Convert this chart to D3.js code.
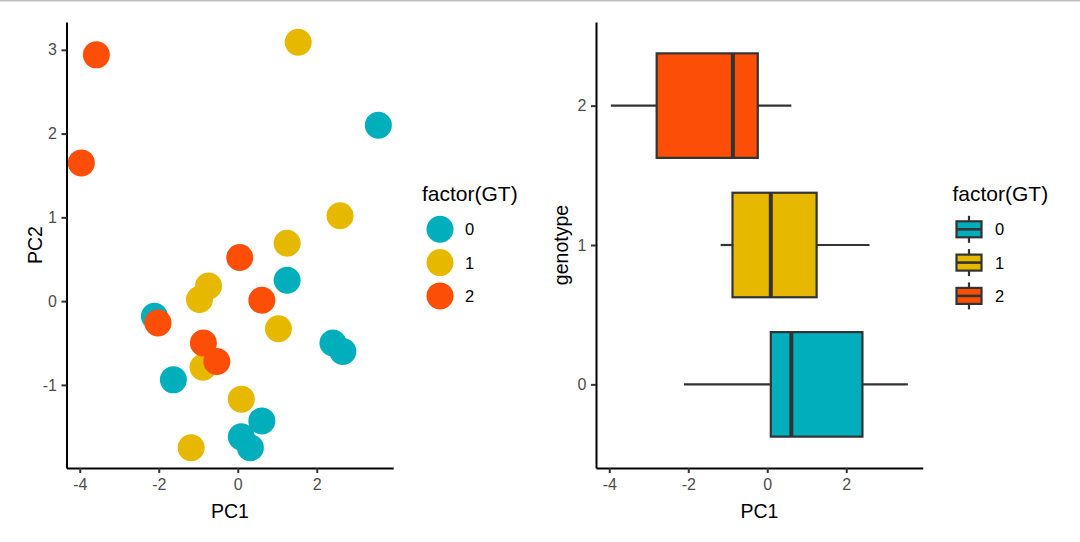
<!DOCTYPE html>
<html>
<head>
<meta charset="utf-8">
<script src="https://cdn.jsdelivr.net/npm/d3@7"></script>
<style>
  html, body { margin: 0; padding: 0; background: #fff; }
  svg { display: block; font-family: "Liberation Sans", Arial, sans-serif; }
</style>
</head>
<body>
<svg id="chart" width="1080" height="542"></svg>
<script>
// ---------------- data ----------------
const gtLevels = ["0", "1", "2"];
const gtColors = ["#00AFBB", "#E7B800", "#FC4E07"];
const gt  = [0,0,0,0,0,0,0,0,0, 1,1,1,1,1,1,1,1,1, 2,2,2,2,2,2,2];
const pc1 = [3.56, 1.25, -2.11, 2.41, 2.66, -1.63, 0.61, 0.09, 0.32,
             1.53, 2.59, 1.25, -0.74, -0.97, 1.03, -0.88, 0.09, -1.18,
             -3.58, -3.96, 0.05, 0.61, -2.02, -0.87, -0.53];
const pc2 = [2.10, 0.25, -0.18, -0.50, -0.60, -0.94, -1.43, -1.62, -1.75,
             3.09, 1.02, 0.69, 0.18, 0.02, -0.33, -0.79, -1.17, -1.75,
             2.94, 1.65, 0.52, 0.01, -0.26, -0.50, -0.72];
const xTicks = [-4, -2, 0, 2];
const yTicks = [-1, 0, 1, 2, 3];
const genoTicks = [0, 1, 2];

// ---------------- layout ----------------
const svg = d3.select("#chart");
const W = 1080, H = 542;
svg.append("rect").attr("x", 0).attr("y", 0).attr("width", W).attr("height", H).attr("fill", "#fff");
svg.append("rect").attr("x", 0).attr("y", 0).attr("width", W).attr("height", 1.5).attr("fill", "#bdbdbd");

const TOP = 22, BOTTOM = 468;
const L1 = 66.5, R1 = 393.2;
const L2 = 596, R2 = 922.7;

function expand(ext, f) { const d = ext[1] - ext[0]; return [ext[0] - d * f, ext[1] + d * f]; }
const xDom = expand(d3.extent(pc1), 0.05);
const yDom = expand(d3.extent(pc2), 0.05);

const x1 = d3.scaleLinear().domain(xDom).range([L1, R1]);
const y1 = d3.scaleLinear().domain(yDom).range([BOTTOM, TOP]);
const x2 = d3.scaleLinear().domain(xDom).range([L2, R2]);
const y2 = d3.scaleLinear().domain([-0.6, 2.6]).range([BOTTOM, TOP]);
const color = d3.scaleOrdinal().domain([0, 1, 2]).range(gtColors);

const TICKFS = 16, TITLEFS = 19.5, LEGTFS = 21, LEGLFS = 16.5;
const LINE = "#333333";

function styleAxis(g) {
  g.attr("font-size", TICKFS).attr("font-family", "Liberation Sans, Arial, sans-serif");
  g.select(".domain").attr("stroke", "#000").attr("stroke-width", 2);
  g.selectAll(".tick line").attr("stroke", LINE).attr("stroke-width", 2);
  g.selectAll(".tick text").attr("fill", "#4D4D4D").attr("font-size", TICKFS);
}

// ---------------- left: scatter ----------------
const pts = d3.range(pc1.length);
svg.append("g").selectAll("circle").data(pts).join("circle")
  .attr("cx", i => x1(pc1[i])).attr("cy", i => y1(pc2[i]))
  .attr("r", 13.5).attr("fill", i => color(gt[i]));

const gx1 = svg.append("g").attr("transform", `translate(0,${BOTTOM})`)
  .call(d3.axisBottom(x1).tickValues(xTicks).tickSize(5).tickSizeOuter(0).tickPadding(5.5));
styleAxis(gx1);
gx1.selectAll(".tick text").text(d => d < 0 ? "-" + Math.abs(d) : d);
const gy1 = svg.append("g").attr("transform", `translate(${L1},0)`)
  .call(d3.axisLeft(y1).tickValues(yTicks).tickSize(5).tickSizeOuter(0).tickPadding(4.5));
styleAxis(gy1);
gy1.selectAll(".tick text").text(d => d < 0 ? "-" + Math.abs(d) : d);

svg.append("text").attr("x", (L1 + R1) / 2).attr("y", 517.5).attr("text-anchor", "middle")
  .attr("font-size", TITLEFS).attr("fill", "#000").text("PC1");
svg.append("text").attr("transform", `translate(41.7,${(TOP + BOTTOM) / 2}) rotate(-90)`)
  .attr("text-anchor", "middle").attr("font-size", TITLEFS).attr("fill", "#000").text("PC2");

// legend left
const legY = [229.3, 262.6, 295.9];
const lg1 = svg.append("g");
lg1.append("text").attr("x", 422).attr("y", 201).attr("font-size", LEGTFS).attr("fill", "#000").text("factor(GT)");
gtLevels.forEach((lv, i) => {
  lg1.append("circle").attr("cx", 440).attr("cy", legY[i]).attr("r", 13.5).attr("fill", gtColors[i]);
  lg1.append("text").attr("x", 465).attr("y", legY[i] + 6).attr("font-size", LEGLFS).attr("fill", "#000").text(lv);
});

// ---------------- right: boxplot ----------------
const groups = gtLevels.map((lv, k) => {
  const v = pts.filter(i => gt[i] === k).map(i => pc1[i]).sort(d3.ascending);
  const q1 = d3.quantile(v, 0.25), med = d3.quantile(v, 0.5), q3 = d3.quantile(v, 0.75);
  const iqr = q3 - q1;
  const lo = d3.min(v.filter(d => d >= q1 - 1.5 * iqr));
  const hi = d3.max(v.filter(d => d <= q3 + 1.5 * iqr));
  return { k, q1, med, q3, lo, hi };
});
const half = 0.375;
const bg = svg.append("g");
groups.forEach(g => {
  const yc = y2(g.k);
  bg.append("line").attr("x1", x2(g.lo)).attr("x2", x2(g.q1)).attr("y1", yc).attr("y2", yc)
    .attr("stroke", LINE).attr("stroke-width", 2.2);
  bg.append("line").attr("x1", x2(g.q3)).attr("x2", x2(g.hi)).attr("y1", yc).attr("y2", yc)
    .attr("stroke", LINE).attr("stroke-width", 2.2);
  bg.append("rect").attr("x", x2(g.q1)).attr("y", y2(g.k + half))
    .attr("width", x2(g.q3) - x2(g.q1)).attr("height", y2(g.k - half) - y2(g.k + half))
    .attr("fill", gtColors[g.k]).attr("stroke", LINE).attr("stroke-width", 2.2);
  bg.append("line").attr("x1", x2(g.med)).attr("x2", x2(g.med))
    .attr("y1", y2(g.k + half)).attr("y2", y2(g.k - half))
    .attr("stroke", LINE).attr("stroke-width", 4);
});

const gx2 = svg.append("g").attr("transform", `translate(0,${BOTTOM})`)
  .call(d3.axisBottom(x2).tickValues(xTicks).tickSize(5).tickSizeOuter(0).tickPadding(5.5));
styleAxis(gx2);
gx2.selectAll(".tick text").text(d => d < 0 ? "-" + Math.abs(d) : d);
const gy2 = svg.append("g").attr("transform", `translate(${L2},0)`)
  .call(d3.axisLeft(y2).tickValues(genoTicks).tickSize(5).tickSizeOuter(0).tickPadding(4.5).tickFormat(d => gtLevels[d]));
styleAxis(gy2);

svg.append("text").attr("x", (L2 + R2) / 2).attr("y", 517.5).attr("text-anchor", "middle")
  .attr("font-size", TITLEFS).attr("fill", "#000").text("PC1");
svg.append("text").attr("transform", `translate(568,${(TOP + BOTTOM) / 2}) rotate(-90)`)
  .attr("text-anchor", "middle").attr("font-size", TITLEFS).attr("fill", "#000").text("genotype");

// legend right
const lg2 = svg.append("g");
lg2.append("text").attr("x", 952.5).attr("y", 201).attr("font-size", LEGTFS).attr("fill", "#000").text("factor(GT)");
gtLevels.forEach((lv, i) => {
  const cx = 969, cy = legY[i];
  lg2.append("line").attr("x1", cx).attr("x2", cx).attr("y1", cy - 13.5).attr("y2", cy + 13.5)
    .attr("stroke", LINE).attr("stroke-width", 2.2);
  lg2.append("rect").attr("x", cx - 12.5).attr("y", cy - 8).attr("width", 25).attr("height", 16)
    .attr("fill", gtColors[i]).attr("stroke", LINE).attr("stroke-width", 2.2);
  lg2.append("line").attr("x1", cx - 12.5).attr("x2", cx + 12.5).attr("y1", cy).attr("y2", cy)
    .attr("stroke", LINE).attr("stroke-width", 2.6);
  lg2.append("text").attr("x", 995).attr("y", cy + 6).attr("font-size", LEGLFS).attr("fill", "#000").text(lv);
});
</script>
</body>
</html>
